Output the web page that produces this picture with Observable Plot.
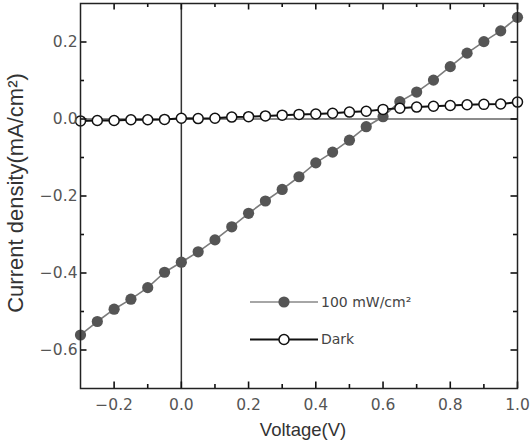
<!DOCTYPE html>
<html>
<head>
<meta charset="utf-8">
<script src="https://cdn.jsdelivr.net/npm/d3@7"></script>
<script src="https://cdn.jsdelivr.net/npm/@observablehq/plot@0.6"></script>
<style>
  body { margin: 0; background: #fff; }
  #chart { position: relative; width: 532px; height: 447px; }
  #legend { position: absolute; left: 0; top: 0; pointer-events: none; }
</style>
</head>
<body>
<div id="chart"></div>
<script>
// Bias voltage (V)
const voltage = [-0.30, -0.25, -0.20, -0.15, -0.10, -0.05, 0.00, 0.05, 0.10, 0.15, 0.20, 0.25, 0.30,
                 0.35, 0.40, 0.45, 0.50, 0.55, 0.60, 0.65, 0.70, 0.75, 0.80, 0.85, 0.90, 0.95, 1.00];
// Current density under 100 mW/cm² illumination (mA/cm²)
const illuminated = [-0.561, -0.526, -0.494, -0.468, -0.438, -0.398, -0.372, -0.345, -0.314, -0.280,
                     -0.245, -0.213, -0.183, -0.150, -0.114, -0.086, -0.055, -0.020, 0.006, 0.045,
                     0.070, 0.101, 0.136, 0.171, 0.201, 0.229, 0.264];
// Current density in the dark (mA/cm²)
const dark = [-0.005, -0.004, -0.004, -0.002, -0.002, -0.001, 0.002, 0.001, 0.002, 0.005,
              0.006, 0.008, 0.010, 0.012, 0.013, 0.015, 0.018, 0.020, 0.025, 0.028,
              0.031, 0.033, 0.035, 0.037, 0.038, 0.039, 0.044];

const xMajor = [-0.2, 0.0, 0.2, 0.4, 0.6, 0.8, 1.0];
const xMinor = [-0.1, 0.1, 0.3, 0.5, 0.7, 0.9];
const yMajor = [-0.6, -0.4, -0.2, 0.0, 0.2];
const yMinor = [-0.5, -0.3, -0.1, 0.1];

const seriesNames = ["100 mW/cm²", "Dark"];

const rows = voltage.map((v, i) => ({v, light: illuminated[i], dark: dark[i]}));

const W = 532, H = 447;
const margin = {left: 80, right: 15, top: 3, bottom: 59};
const innerW = W - margin.left - margin.right;
const innerH = H - margin.top - margin.bottom;

const tickFont = "'DejaVu Sans', sans-serif";
const labelFont = "'Liberation Sans', Arial, sans-serif";
const fmt = d3.format(".1f");
const tickStroke = {stroke: "#111", strokeWidth: 1.6};

// Inward ticks on all four sides: full-frame rules trimmed down to a short stub at each edge
function frameTicks(xs, ys, size) {
  return [
    Plot.ruleX(xs, {x: d => d, insetTop: innerH - size, ...tickStroke}),
    Plot.ruleX(xs, {x: d => d, insetBottom: innerH - size, ...tickStroke}),
    Plot.ruleY(ys, {y: d => d, insetRight: innerW - size, ...tickStroke}),
    Plot.ruleY(ys, {y: d => d, insetLeft: innerW - size, ...tickStroke})
  ];
}

const chart = Plot.plot({
  width: W,
  height: H,
  marginLeft: margin.left,
  marginRight: margin.right,
  marginTop: margin.top,
  marginBottom: margin.bottom,
  style: {background: "#fff", fontFamily: tickFont},
  x: {domain: [-0.3, 1.0]},
  y: {domain: [-0.7, 0.3]},
  marks: [
    Plot.ruleY([0], {stroke: "#666", strokeWidth: 1.5}),
    Plot.ruleX([0], {stroke: "#333", strokeWidth: 1.5}),
    Plot.line(rows, {x: "v", y: "light", stroke: "#7c7c7c", strokeWidth: 1.6}),
    Plot.dot(rows, {x: "v", y: "light", r: 5.6, fill: "#555", stroke: "none"}),
    Plot.line(rows, {x: "v", y: "dark", stroke: "#111", strokeWidth: 2}),
    Plot.dot(rows, {x: "v", y: "dark", r: 5, fill: "#fff", stroke: "#111", strokeWidth: 1.5}),
    ...frameTicks(xMajor, yMajor, 6.5),
    ...frameTicks(xMinor, yMinor, 4),
    // tick labels
    Plot.axisX({anchor: "bottom", ticks: xMajor, tickSize: 0, tickPadding: 10, tickFormat: fmt,
                label: null, fontSize: 15.5, fill: "#555"}),
    Plot.axisY({anchor: "left", ticks: yMajor, tickSize: 0, tickPadding: 3, tickFormat: fmt,
                label: null, fontSize: 15.5, fill: "#555"}),
    // axis titles
    Plot.text(["Voltage(V)"], {frameAnchor: "bottom", dx: 4, dy: 47, fontSize: 18.5,
                               fontFamily: labelFont, fill: "#333"}),
    Plot.text(["Current density(mA/cm²)"], {frameAnchor: "left", textAnchor: "middle", dx: -65, dy: -3,
                                            rotate: -90, fontSize: 22, fontFamily: labelFont, fill: "#333"}),
    Plot.frame({stroke: "#222", strokeWidth: 1.5})
  ]
});

const container = document.getElementById("chart");
container.appendChild(chart);

// Legend drawn over the plot area
const legend = d3.select(container).append("svg")
  .attr("id", "legend")
  .attr("width", W)
  .attr("height", H);

const legendStyles = [
  {line: "#888", fill: "#555", stroke: "none", r: 5.6},
  {line: "#111", fill: "#fff", stroke: "#111", r: 5}
];

const item = legend.selectAll("g")
  .data(seriesNames)
  .join("g")
  .attr("transform", (d, i) => `translate(250,${302 + i * 37.5})`);

item.append("line")
  .attr("x1", 0).attr("x2", 68)
  .attr("stroke", (d, i) => legendStyles[i].line)
  .attr("stroke-width", (d, i) => i ? 2 : 1.6);

item.append("circle")
  .attr("cx", 34)
  .attr("r", (d, i) => legendStyles[i].r)
  .attr("fill", (d, i) => legendStyles[i].fill)
  .attr("stroke", (d, i) => legendStyles[i].stroke)
  .attr("stroke-width", 1.5);

item.append("text")
  .attr("x", 71)
  .attr("dy", "0.35em")
  .attr("font-family", tickFont)
  .attr("font-size", 14)
  .attr("fill", "#444")
  .text(d => d);
</script>
</body>
</html>
